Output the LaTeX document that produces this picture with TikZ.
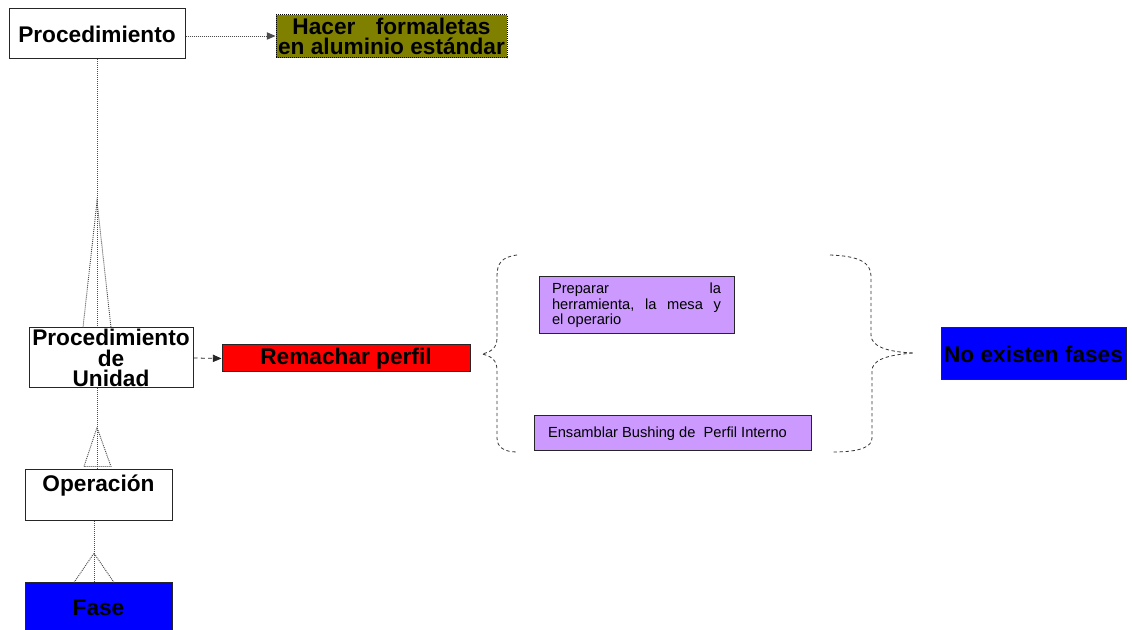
\documentclass[tikz,border=0pt]{standalone}
\usepackage{fontspec}
\setmainfont{Liberation Sans}
\usetikzlibrary{arrows.meta,calc}
\definecolor{oliva}{HTML}{808000}
\definecolor{lila}{HTML}{CC99FF}
\definecolor{azul}{HTML}{0000FF}
\definecolor{rojo}{HTML}{FF0000}
\begin{document}
\begin{tikzpicture}[x=0.75pt,y=-0.75pt,
  box/.style={draw=black!85,line width=0.75pt,inner sep=0pt,align=center,
    font=\fontsize{17}{15.5}\selectfont\bfseries},
  small/.style={draw=black!85,line width=0.75pt,fill=lila,inner sep=0pt,
    font=\fontsize{11}{11.6}\selectfont},
  dotline/.style={line width=0.7pt,dash pattern=on 0.75pt off 0.75pt,black!70},
  dashline/.style={line width=0.6pt,dash pattern=on 3pt off 2.5pt,black!85},
  bracestyle/.style={line width=0.6pt,dash pattern=on 2.5pt off 2pt,black!80},
  tip/.style={-{Triangle[length=6.5pt,width=5.5pt]}}]
\useasboundingbox (0,0) rectangle (1132,630);

% boxes
\node[box,minimum width=132pt,minimum height=37.5pt] (proc) at (97,34) {Procedimiento};
\node[box,fill=oliva,draw=black,dash pattern=on 0.75pt off 0.75pt,
  minimum width=173.25pt,minimum height=32.25pt] (hacer) at (391.5,36.5)
  {Hacer\hspace{0.9em}formaletas\\en aluminio estándar};
\node[box,minimum width=123pt,minimum height=45pt] (pu) at (111,358)
  {Procedimiento\\de\\Unidad};
\node[box,fill=rojo,minimum width=186pt,minimum height=20.25pt] (rem) at (346,358.5)
  {Remachar perfil};
\node[small,minimum width=146.25pt,minimum height=42.75pt] (p1) at (636.5,305.5)
  {\parbox{126.75pt}{Preparar\hfill la\\herramienta,\hfill la\hfill mesa\hfill y\\el operario}};
\node[small,minimum width=207.75pt,minimum height=26.25pt] (p2) at (672.5,433.5)
  {\parbox{186.75pt}{Ensamblar Bushing de\ \ Perfil Interno}};
\node[box,fill=azul,minimum width=138.75pt,minimum height=39pt] (nef) at (1033.5,354)
  {No existen fases};
\node[box,minimum width=110.25pt,minimum height=38.25pt] (op) at (98.5,495.5)
  {Operación\\[3pt]\mbox{}};
\node[box,fill=azul,minimum width=110.25pt,minimum height=36.75pt] (fase) at (98.5,607.5)
  {Fase};

% connectors
\draw[dotline,tip] ($(proc.east)+(0,2)$) -- ($(proc.east -| hacer.west)+(0,2)$);
\draw[dashline,tip] (pu.east) -- (rem.west);

% Procedimiento -- Procedimiento de Unidad (crow's foot)
\coordinate (f1) at ($(proc.south)!0.53!(proc.south |- pu.north)$);
\draw[dotline] (proc.south) -- (proc.south |- pu.north);
\draw[dotline] ($(proc.south |- pu.north)+(-14,0)$) -- (f1) -- ($(proc.south |- pu.north)+(14,0)$);

% Procedimiento de Unidad -- Operacion
\coordinate (u1) at (proc.south |- pu.south);
\coordinate (u2) at ($(proc.south |- op.north)+(0,-3)$);
\coordinate (f2) at ($(u1)!0.5!(u2)$);
\draw[dotline] (u1) -- (proc.south |- op.north);
\draw[dotline] ($(u2)+(-13,0)$) -- (f2) -- ($(u2)+(14,0)$) -- cycle;

% Operacion -- Fase
\coordinate (o1) at ($(op.south)+(-4.5,0)$);
\coordinate (o2) at ($(fase.north)+(-4.5,0)$);
\coordinate (f3) at ($(o1)!0.52!(o2)$);
\draw[dotline] (o1) -- (o2);
\draw[dotline] ($(o2)+(-20,0)$) -- (f3) -- ($(o2)+(20,0)$);

% braces around the operations
\draw[bracestyle] (517,255) .. controls (502,257) and (497,263) .. (497,276)
  -- (497,338) .. controls (497,348) and (491,352) .. (482,354)
  .. controls (491,356) and (497,360) .. (497,370)
  -- (497,438) .. controls (497,447) and (504,452) .. (517,452);
\draw[bracestyle] (830,255) .. controls (858,256) and (871,262) .. (871,276)
  -- (871,335) .. controls (871,346) and (886,352) .. (914,353)
  .. controls (886,355) and (872,360) .. (872,371)
  -- (872,438) .. controls (872,447) and (860,452) .. (833,452);
\end{tikzpicture}
\end{document}
